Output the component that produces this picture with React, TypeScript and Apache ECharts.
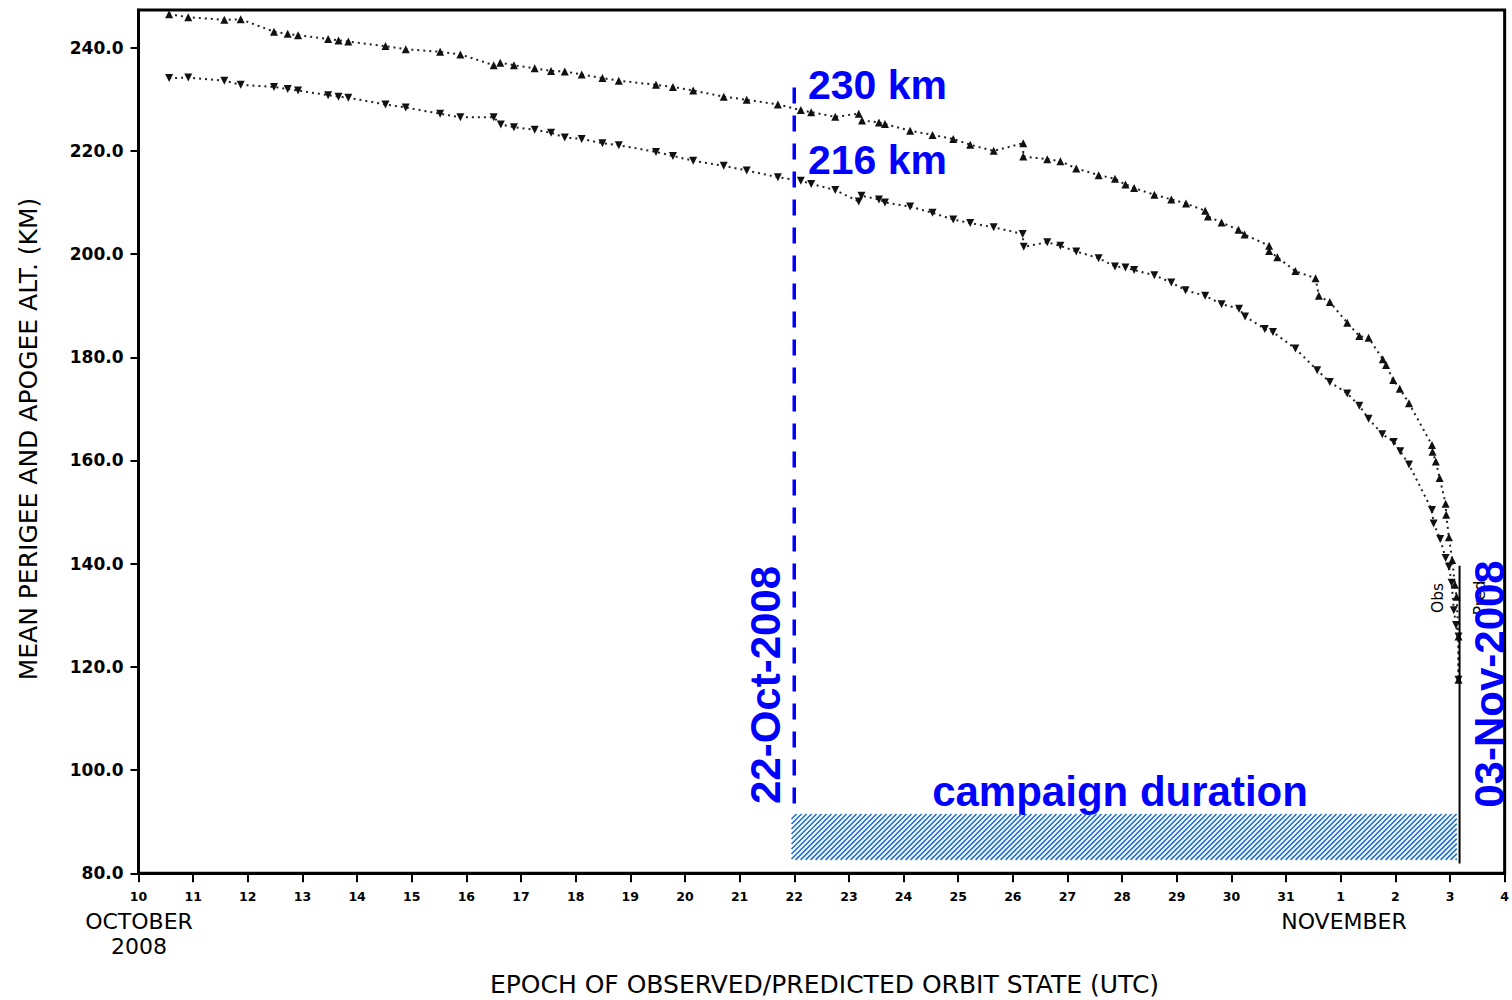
import React, { useEffect, useRef } from "react";
import * as echarts from "echarts";

// Days counted from 0 October 2008 (Nov 1 = 32)
const apogeeDay = [
  10.56, 10.91, 11.57, 11.87, 12.48, 12.73, 12.92, 13.47, 13.66, 13.84, 14.52, 14.89, 15.52, 15.89,
  16.5, 16.62, 16.87, 17.25, 17.55, 17.8, 18.11, 18.49, 18.79, 19.47, 19.78, 20.15, 20.71, 21.13,
  21.7, 22.12, 22.31, 22.75, 23.18, 23.24, 23.55, 23.66, 24.12, 24.53, 24.91, 25.22, 25.65, 26.19,
  26.19, 26.63, 26.87, 27.16, 27.57, 27.87, 28.06, 28.22, 28.59, 28.9, 29.17, 29.52, 29.57, 29.82,
  30.13, 30.24, 30.69, 30.69, 30.84, 31.17, 31.54, 31.6, 31.8, 32.12, 32.34, 32.51, 32.77, 32.83,
  32.96, 33.08, 33.25, 33.67, 33.68, 33.74, 33.81, 33.92, 33.93, 33.98, 34.04, 34.09, 34.12, 34.155,
  34.155,
];
const apogeeAlt = [
  246.5, 245.9, 245.4, 245.5, 243.1, 242.7, 242.4, 241.7, 241.4, 241.2, 240.3, 239.7, 239.2, 238.7,
  236.6, 237.1, 236.6, 236.0, 235.5, 235.4, 234.8, 234.1, 233.6, 232.8, 232.4, 231.7, 230.5, 229.9,
  229.0, 227.9, 227.5, 226.6, 227.2, 225.9, 225.5, 225.2, 223.9, 223.1, 222.3, 221.2, 220.0, 221.5,
  218.9, 218.4, 218.0, 216.6, 215.3, 214.6, 213.5, 212.8, 211.5, 210.6, 209.8, 208.4, 207.3, 206.1,
  204.7, 203.8, 201.6, 200.6, 199.4, 196.7, 195.3, 191.9, 190.7, 186.7, 184.1, 183.8, 179.6, 178.5,
  175.6, 173.9, 171.1, 163.0, 161.7, 159.8, 156.6, 151.6, 149.5, 145.1, 140.7, 135.9, 133.6, 125.9,
  117.5,
];
const perigeeDay = [
  10.56, 10.91, 11.57, 11.87, 12.48, 12.73, 12.92, 13.47, 13.66, 13.84, 14.52, 14.89, 15.52, 15.89,
  16.5, 16.63, 16.87, 17.25, 17.55, 17.8, 18.11, 18.49, 18.79, 19.47, 19.78, 20.15, 20.71, 21.13,
  21.7, 22.12, 22.31, 22.75, 23.18, 23.23, 23.55, 23.66, 24.12, 24.53, 24.91, 25.22, 25.65, 26.18,
  26.2, 26.63, 26.87, 27.16, 27.57, 27.87, 28.06, 28.22, 28.59, 28.9, 29.16, 29.52, 29.82, 30.14,
  30.25, 30.61, 30.76, 31.17, 31.57, 31.8, 32.12, 32.34, 32.51, 32.76, 32.97, 33.09, 33.25, 33.67,
  33.7, 33.82, 33.92, 33.98, 34.03, 34.07, 34.11, 34.155, 34.155,
];
const perigeeAlt = [
  234.1, 234.2, 233.6, 232.8, 232.4, 232.0, 231.7, 230.8, 230.5, 230.3, 229.0, 228.4, 227.2, 226.5,
  226.5, 225.1, 224.6, 224.1, 223.5, 222.6, 222.3, 221.5, 221.1, 219.8, 219.0, 218.1, 217.1, 216.2,
  214.9, 214.2, 213.6, 212.4, 210.2, 211.3, 210.6, 210.0, 209.2, 208.0, 206.7, 206.0, 205.2, 203.9,
  201.4, 202.3, 201.6, 200.5, 199.2, 197.6, 197.4, 196.9, 195.9, 194.5, 193.0, 191.9, 190.3, 189.4,
  187.9, 185.5, 184.9, 181.7, 177.5, 175.2, 173.0, 170.6, 168.1, 165.1, 163.6, 161.8, 159.2, 150.4,
  147.8, 144.8, 141.1, 139.4, 136.3, 131.0, 128.1, 125.9, 117.5,
];

// Campaign annotation (start day, end day, lower alt, upper alt)
const campaignBand = [21.95, 34.125, 82.6, 91.5];
// Campaign start marker (day, from alt, to alt)
const startMarker = [22, 232.3, 92.6];
// Obs / Pred boundary (day, from alt, to alt)
const obsPredLine = [34.175, 139.6, 81.9];

const octoberDays = 31;
const xMin = 10;
const xMax = 35;
const yMin = 80;
const yMax = 247.3;

const zip = (a: number[], b: number[]) => a.map((v, i) => [v, b[i]]);

const BLUE = "#0000ff";
const BLUE_FONT = '"Liberation Sans", Arial, Helvetica, sans-serif';
const AXIS_FONT = '"DejaVu Sans", Verdana, sans-serif';

export default function App() {
  const ref = useRef<HTMLDivElement>(null);

  useEffect(() => {
    if (!ref.current) return;
    const chart = echarts.init(ref.current, undefined, { renderer: "svg" });

    const option: any = {
      animation: false,
      backgroundColor: "#ffffff",
      grid: {
        left: 138.5,
        right: 4,
        top: 10,
        bottom: 126.7,
        show: true,
        borderColor: "#000",
        borderWidth: 3,
      },
      xAxis: {
        type: "value",
        min: xMin,
        max: xMax,
        interval: 1,
        splitLine: { show: false },
        axisLine: { lineStyle: { color: "#000", width: 3 } },
        axisTick: { length: 9, lineStyle: { color: "#000", width: 2 } },
        axisLabel: {
          showMinLabel: true,
          showMaxLabel: true,
          margin: 17,
          color: "#000",
          fontFamily: AXIS_FONT,
          fontWeight: "bold",
          fontSize: 12.5,
          formatter: (v: number) => String(v > octoberDays ? v - octoberDays : v),
        },
      },
      yAxis: {
        type: "value",
        min: yMin,
        max: yMax,
        interval: 20,
        splitLine: { show: false },
        axisLine: { lineStyle: { color: "#000", width: 3 } },
        axisTick: { length: 8, lineStyle: { color: "#000", width: 2 } },
        axisLabel: {
          showMaxLabel: false,
          margin: 15,
          color: "#000",
          fontFamily: AXIS_FONT,
          fontWeight: "bold",
          fontSize: 17,
          formatter: (v: number) => (Math.abs(v % 20) < 1e-6 ? v.toFixed(1) : ""),
        },
      },
      series: [
        {
          name: "Apogee",
          type: "line",
          data: zip(apogeeDay, apogeeAlt),
          symbol: "triangle",
          symbolSize: 8,
          itemStyle: { color: "#111" },
          lineStyle: { color: "#222", width: 2, type: [2, 4] },
          z: 3,
        },
        {
          name: "Perigee",
          type: "line",
          data: zip(perigeeDay, perigeeAlt),
          symbol: "triangle",
          symbolRotate: 180,
          symbolSize: 8,
          itemStyle: { color: "#111" },
          lineStyle: { color: "#222", width: 2, type: [2, 4] },
          z: 3,
        },
        {
          name: "start",
          type: "line",
          data: [
            [startMarker[0], startMarker[1]],
            [startMarker[0], startMarker[2]],
          ],
          symbol: "none",
          lineStyle: { color: BLUE, width: 3.5, type: [16, 12] },
          z: 4,
        },
        {
          name: "obspred",
          type: "line",
          data: [
            [obsPredLine[0], obsPredLine[1]],
            [obsPredLine[0], obsPredLine[2]],
          ],
          symbol: "none",
          lineStyle: { color: "#000", width: 2 },
          z: 4,
        },
        {
          name: "campaign",
          type: "custom",
          data: [campaignBand],
          encode: { x: [0, 1], y: [2, 3] },
          z: 2,
          renderItem: (params: any, api: any) => {
            const tl = api.coord([api.value(0), api.value(3)]);
            const br = api.coord([api.value(1), api.value(2)]);
            const L = tl[0];
            const T = tl[1];
            const R = br[0];
            const B = br[1];
            const step = 5;
            const children: any[] = [];
            for (let c = L + T; c <= R + B; c += step) {
              const xa = Math.max(L, c - B);
              const xb = Math.min(R, c - T);
              if (xb > xa) {
                children.push({
                  type: "line",
                  shape: { x1: xa, y1: c - xa, x2: xb, y2: c - xb },
                  style: { stroke: "#1a6fd4", lineWidth: 1.6 },
                });
              }
            }
            return { type: "group", children };
          },
        },
      ],
      graphic: [
        {
          type: "text",
          x: 139,
          y: 921,
          style: { text: "OCTOBER", font: `22px ${AXIS_FONT}`, fill: "#000", align: "center", verticalAlign: "middle" },
        },
        {
          type: "text",
          x: 139,
          y: 946.5,
          style: { text: "2008", font: `22px ${AXIS_FONT}`, fill: "#000", align: "center", verticalAlign: "middle" },
        },
        {
          type: "text",
          x: 1344,
          y: 921,
          style: { text: "NOVEMBER", font: `22px ${AXIS_FONT}`, fill: "#000", align: "center", verticalAlign: "middle" },
        },
        {
          type: "text",
          x: 824.5,
          y: 984,
          style: {
            text: "EPOCH OF OBSERVED/PREDICTED ORBIT STATE (UTC)",
            font: `25px ${AXIS_FONT}`,
            fill: "#000",
            align: "center",
            verticalAlign: "middle",
          },
        },
        {
          type: "text",
          x: 28,
          y: 439,
          rotation: Math.PI / 2,
          style: {
            text: "MEAN PERIGEE AND APOGEE ALT. (KM)",
            font: `25px ${AXIS_FONT}`,
            fill: "#000",
            align: "center",
            verticalAlign: "middle",
          },
        },
        {
          type: "text",
          x: 1438,
          y: 598,
          rotation: Math.PI / 2,
          style: { text: "Obs", font: `15.5px ${AXIS_FONT}`, fill: "#000", align: "center", verticalAlign: "middle" },
        },
        {
          type: "text",
          x: 1480,
          y: 598,
          rotation: Math.PI / 2,
          style: { text: "Pred", font: `15.5px ${AXIS_FONT}`, fill: "#000", align: "center", verticalAlign: "middle" },
        },
        {
          type: "text",
          x: 808,
          y: 85,
          style: { text: "230 km", font: `bold 41px ${BLUE_FONT}`, fill: BLUE, align: "left", verticalAlign: "middle" },
        },
        {
          type: "text",
          x: 808,
          y: 159.5,
          style: { text: "216 km", font: `bold 41px ${BLUE_FONT}`, fill: BLUE, align: "left", verticalAlign: "middle" },
        },
        {
          type: "text",
          x: 1120,
          y: 791,
          style: {
            text: "campaign duration",
            font: `bold 42px ${BLUE_FONT}`,
            fill: BLUE,
            align: "center",
            verticalAlign: "middle",
          },
        },
        {
          type: "text",
          x: 765,
          y: 685,
          rotation: Math.PI / 2,
          style: { text: "22-Oct-2008", font: `bold 42px ${BLUE_FONT}`, fill: BLUE, align: "center", verticalAlign: "middle" },
        },
        {
          type: "text",
          x: 1489,
          y: 684,
          rotation: Math.PI / 2,
          z: 10,
          style: { text: "03-Nov-2008", font: `bold 42px ${BLUE_FONT}`, fill: BLUE, align: "center", verticalAlign: "middle" },
        },
      ],
    };

    chart.setOption(option);
    return () => chart.dispose();
  }, []);

  return (
    <div
      ref={ref}
      style={{ position: "fixed", left: 0, top: 0, width: 1512, height: 1000, background: "#fff" }}
    />
  );
}
